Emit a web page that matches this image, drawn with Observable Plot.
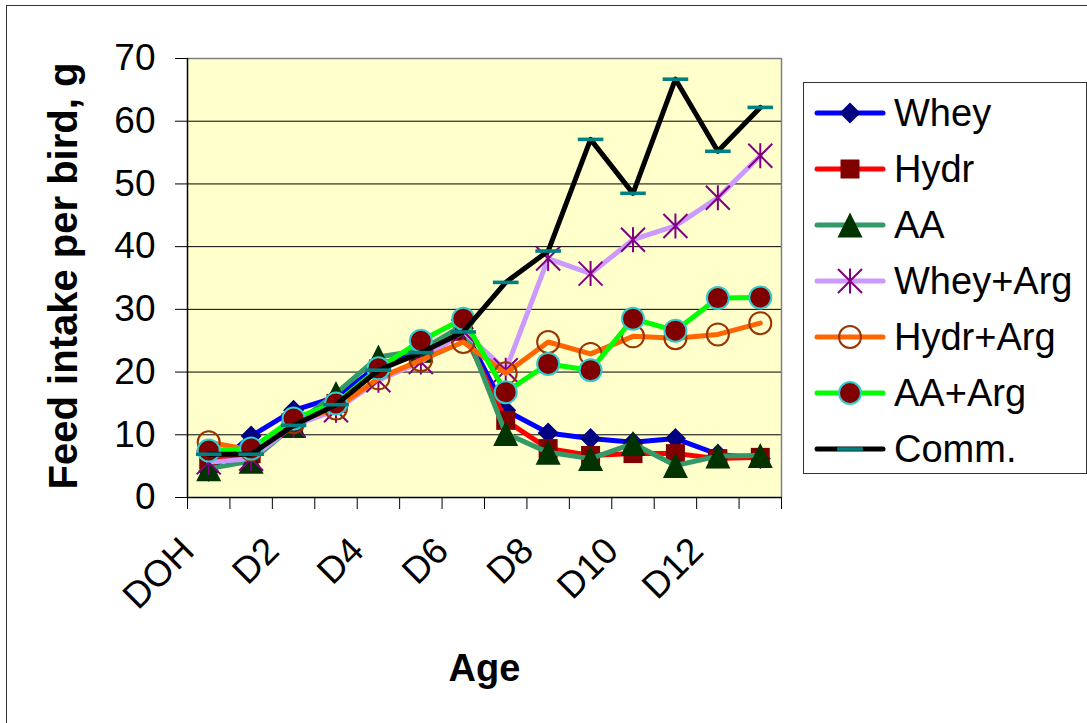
<!DOCTYPE html>
<html><head><meta charset="utf-8">
<script src="https://cdn.jsdelivr.net/npm/d3@7"></script>
<script src="https://cdn.jsdelivr.net/npm/@observablehq/plot@0.6"></script>
<style>
body{margin:0;background:#fff;font-family:"Liberation Sans",Arial,sans-serif;}
#wrap{position:relative;width:1087px;height:723px;overflow:hidden;}
#border{position:absolute;left:6px;top:5px;width:1200px;height:800px;border:1px solid #333;box-sizing:border-box;}
#chart{position:absolute;left:0;top:0;}
#legend{position:absolute;left:803px;top:82px;width:284px;height:392px;border:1px solid #333;box-sizing:border-box;background:#fff;}
.item{position:absolute;left:10px;height:56px;display:flex;align-items:center;font-size:38px;color:#000;white-space:nowrap;}
.item svg{margin-right:8px;}
</style></head><body>
<div id="wrap"><div id="border"></div><div id="chart"></div><div id="legend"></div></div>
<script>
// ---- data ----
const categories = ["DOH","D1","D2","D3","D4","D5","D6","D7","D8","D9","D10","D11","D12","D13"];
const tickLabels = ["DOH","D2","D4","D6","D8","D10","D12"];
const yTicks = [0,10,20,30,40,50,60,70];
const whey    = [4.2, 9.8, 13.9, 16.0, 21.0, 23.5, 27.0, 13.9, 10.3, 9.4, 8.8, 9.4, 6.9, 6.2];
const hydr    = [6.0, 7.0, 12.0, 15.0, 20.5, 23.0, 26.5, 12.3, 7.8, 6.7, 7.0, 7.0, 6.2, 6.4];
const aa      = [4.6, 5.8, 11.5, 16.6, 22.4, 23.5, 27.5, 10.2, 7.2, 6.2, 8.6, 5.1, 6.6, 6.7];
const wheyArg = [5.6, 6.2, 11.5, 13.9, 18.7, 21.6, 26.5, 20.3, 38.1, 35.7, 41.1, 43.3, 47.8, 54.5];
const hydrArg = [8.8, 7.6, 12.0, 14.2, 19.0, 21.9, 24.8, 19.8, 24.8, 22.9, 25.7, 25.4, 26.0, 27.8];
const aaArg   = [7.5, 7.8, 12.6, 15.0, 20.6, 25.0, 28.5, 16.8, 21.3, 20.3, 28.5, 26.6, 31.8, 31.9];
const comm    = [6.9, 6.9, 11.5, 14.8, 20.3, 23.1, 26.4, 34.3, 39.3, 57.1, 48.5, 66.7, 55.2, 62.2];
const seriesNames = ["Whey","Hydr","AA","Whey+Arg","Hydr+Arg","AA+Arg","Comm."];
const seriesValues = [whey, hydr, aa, wheyArg, hydrArg, aaArg, comm];

// ---- symbols ----
const rad = s => Math.sqrt(s / Math.PI);
const symDiamond = {draw(c, s){const r=rad(s);c.moveTo(0,-r);c.lineTo(r,0);c.lineTo(0,r);c.lineTo(-r,0);c.closePath();}};
const symSquare = {draw(c, s){const r=rad(s);c.rect(-r,-r,2*r,2*r);}};
const symTriangle = {draw(c, s){const r=rad(s);c.moveTo(0,-r);c.lineTo(r,r);c.lineTo(-r,r);c.closePath();}};
const symAsterisk = {draw(c, s){const r=rad(s);const k=r*0.96;c.moveTo(0,-r);c.lineTo(0,r);c.moveTo(-k,-k);c.lineTo(k,k);c.moveTo(-k,k);c.lineTo(k,-k);}};
const symDash = {draw(c, s){const r=rad(s);c.rect(-r,-1.8,2*r,3.6);}};

const styles = [
  {line:"#0000FF", symbol:symDiamond,  r:10.5, fill:"#000080", stroke:"none", sw:0},
  {line:"#FF0000", symbol:symSquare,   r:9.5,  fill:"#800000", stroke:"none", sw:0},
  {line:"#339966", symbol:symTriangle, r:12.5, fill:"#003300", stroke:"none", sw:0},
  {line:"#CC99FF", symbol:symAsterisk, r:12.5, fill:"none",    stroke:"#800080", sw:2},
  {line:"#FF6600", symbol:"circle",    r:11,   fill:"none",    stroke:"#993300", sw:2},
  {line:"#00FF00", symbol:"circle",    r:11,   fill:"#800000", stroke:"#33CCCC", sw:2},
  {line:"#000000", symbol:symDash,     r:12.8, fill:"#008080", stroke:"none", sw:0}
];

const idx = categories.map((_, i) => i);
const boundaries = d3.range(-0.5, categories.length, 1);
const labelIdx = tickLabels.map(t => categories.indexOf(t));

const marks = [
  Plot.frame({fill:"#FFFFCC", stroke:"none"}),
  Plot.gridY(yTicks, {stroke:"#000", strokeOpacity:1, strokeWidth:1}),
  Plot.ruleY([70], {stroke:"#808080", strokeWidth:1.5}),
  Plot.ruleX([categories.length - 0.5], {stroke:"#808080", strokeWidth:1.5}),
  Plot.axisY(yTicks, {tickSize:12, tickPadding:20, stroke:"#000", fontSize:37, label:null}),
  Plot.axisX(boundaries, {tickSize:12, tickFormat:() => "", stroke:"#000", label:null}),
  Plot.ruleY([0], {stroke:"#000", strokeWidth:1.5}),
  Plot.ruleX([-0.5], {stroke:"#000", strokeWidth:1.5}),
  Plot.text(labelIdx, {x:i => i, frameAnchor:"bottom", text:i => categories[i], rotate:-45, textAnchor:"end", lineAnchor:"middle", dx:-21, dy:47, fontSize:37, fill:"#000"}),
  Plot.text(["Feed intake per bird, g"], {frameAnchor:"left", text:d => d, rotate:-90, dx:-123, dy:-2, textAnchor:"middle", lineAnchor:"middle", fontSize:40, fontWeight:"bold", fill:"#000"}),
  Plot.text(["Age"], {frameAnchor:"bottom", text:d => d, dy:171, textAnchor:"middle", lineAnchor:"middle", fontSize:38, fontWeight:"bold", fill:"#000"})
];
seriesValues.forEach((vals, k) => {
  const st = styles[k];
  marks.push(Plot.line(idx, {x:i => i, y:i => vals[i], stroke:st.line, strokeWidth:5, strokeLinejoin:"round", strokeLinecap:"round"}));
  marks.push(Plot.dot(idx, {x:i => i, y:i => vals[i], symbol:st.symbol, r:st.r, fill:st.fill, stroke:st.stroke, strokeWidth:st.sw}));
});

const chart = Plot.plot({
  width:1087, height:723,
  marginLeft:187, marginRight:306, marginTop:58, marginBottom:226,
  style:{background:"transparent", fontFamily:"'Liberation Sans', Arial, sans-serif", fontSize:"37px", overflow:"visible", color:"#000"},
  x:{type:"linear", domain:[-0.5, categories.length - 0.5], axis:null},
  y:{type:"linear", domain:[0,70], axis:null},
  marks
});
document.getElementById("chart").appendChild(chart);

// ---- legend ----
const legend = document.getElementById("legend");
seriesNames.forEach((name, k) => {
  const st = styles[k];
  const item = document.createElement("div");
  item.className = "item";
  item.style.top = (2 + 56 * k) + "px";
  const svg = d3.create("svg").attr("width", 72).attr("height", 30);
  svg.append("line").attr("x1", 3).attr("x2", 69).attr("y1", 15).attr("y2", 15)
    .attr("stroke", st.line).attr("stroke-width", 5).attr("stroke-linecap", "round");
  const sym = typeof st.symbol === "string" ? d3.symbolCircle : st.symbol;
  svg.append("path").attr("transform", "translate(36,15)")
    .attr("d", d3.symbol(sym, Math.PI * st.r * st.r)())
    .attr("fill", st.fill).attr("stroke", st.stroke).attr("stroke-width", st.sw);
  item.appendChild(svg.node());
  const span = document.createElement("span");
  span.textContent = name;
  item.appendChild(span);
  legend.appendChild(item);
});
</script>
</body></html>
